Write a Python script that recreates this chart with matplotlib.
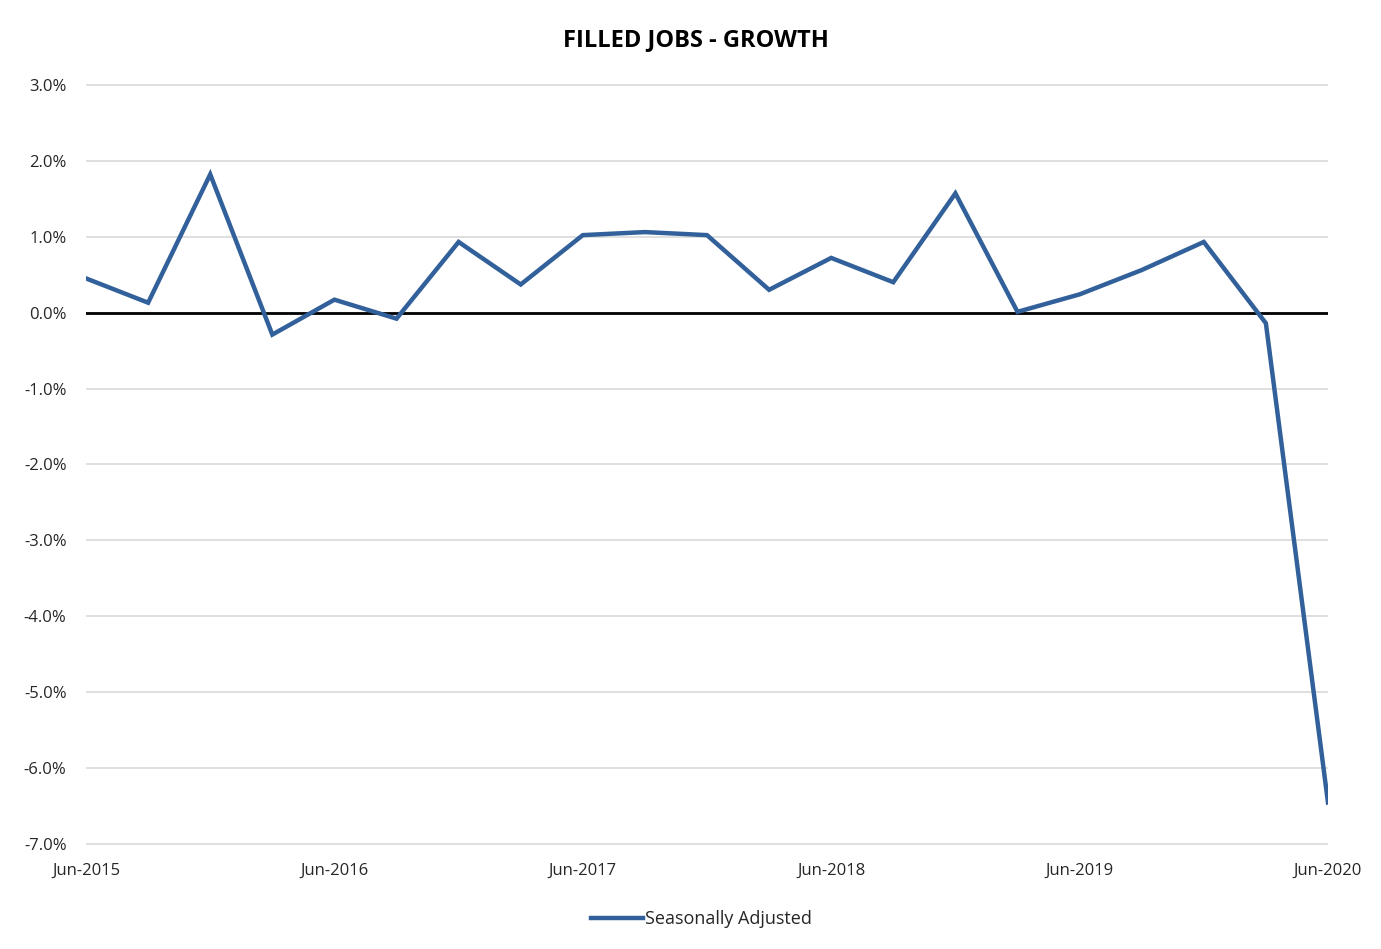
"""Filled jobs growth, quarterly, seasonally adjusted."""

import matplotlib
matplotlib.use("Agg")
import matplotlib.pyplot as plt
from matplotlib.ticker import FuncFormatter

quarters = [
    "Jun-2015", "Sep-2015", "Dec-2015", "Mar-2016",
    "Jun-2016", "Sep-2016", "Dec-2016", "Mar-2017",
    "Jun-2017", "Sep-2017", "Dec-2017", "Mar-2018",
    "Jun-2018", "Sep-2018", "Dec-2018", "Mar-2019",
    "Jun-2019", "Sep-2019", "Dec-2019", "Mar-2020",
    "Jun-2020",
]
growth_pct = [
    0.45, 0.13, 1.82, -0.29,
    0.17, -0.08, 0.93, 0.37,
    1.02, 1.06, 1.02, 0.30,
    0.72, 0.40, 1.57, 0.01,
    0.24, 0.56, 0.93, -0.14,
    -6.45,
]
y_ticks = [3, 2, 1, 0, -1, -2, -3, -4, -5, -6, -7]

LINE_COLOR = "#31609a"
TEXT_COLOR = "#262626"

plt.rcParams["font.family"] = ["Open Sans", "DejaVu Sans"]

fig = plt.figure(figsize=(13.81, 9.49), dpi=100)
ax = fig.add_axes([0.0623, 0.1096, 0.8993, 0.8019])

x = list(range(len(quarters)))
ax.plot(x, growth_pct, color=LINE_COLOR, lw=3.2, solid_joinstyle="miter",
        label="Seasonally Adjusted", zorder=3)
ax.axhline(0, color="black", lw=2, zorder=2)

ax.set_xlim(0, len(quarters) - 1)
ax.set_ylim(-7.01, 3.01)
ax.set_yticks(y_ticks)
ax.yaxis.set_major_formatter(FuncFormatter(lambda v, _: f"{v:.1f}%"))
ax.grid(axis="y", color="#d9d9d9", lw=1.2, zorder=0)

tick_pos = [i for i, q in enumerate(quarters) if q.startswith("Jun")]
ax.set_xticks(tick_pos)
ax.set_xticklabels([quarters[i] for i in tick_pos])

for s in ax.spines.values():
    s.set_visible(False)
ax.tick_params(length=0, labelsize=12, colors=TEXT_COLOR)
ax.tick_params(axis="y", pad=14)
ax.tick_params(axis="x", pad=13)

fig.text(0.504, 0.958, "FILLED JOBS - GROWTH", ha="center", va="center",
         fontsize=17, fontweight="bold", color="black")

fig.legend(loc="lower center", bbox_to_anchor=(0.508, 0.005), frameon=False,
           fontsize=13, handlelength=2.9, handletextpad=0.1,
           labelcolor=TEXT_COLOR)

fig.savefig("out.png", dpi=100, facecolor="white")
